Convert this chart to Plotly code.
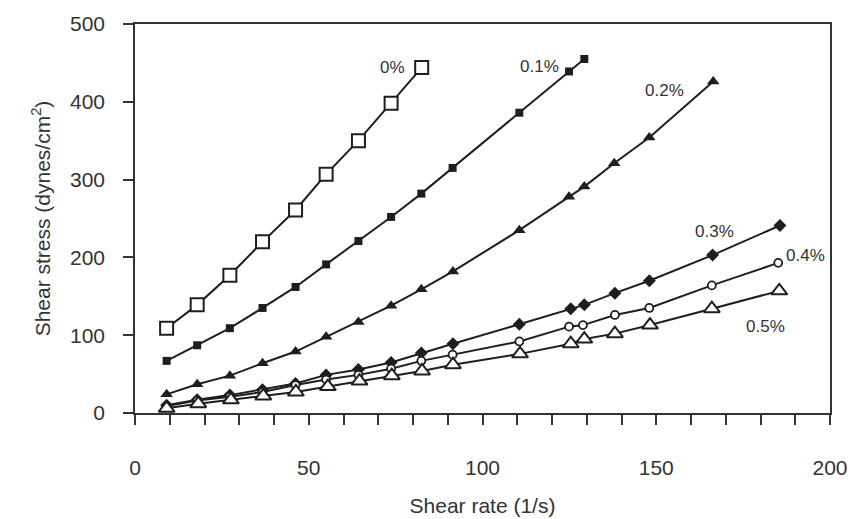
import plotly.graph_objects as go

# ---- data (shear rate in 1/s, shear stress in dynes/cm^2) ----
x_0 = [9.1, 17.9, 27.3, 36.7, 46.2, 55.0, 64.3, 73.7, 82.5]
y_0 = [109, 139, 177, 220, 261, 307, 350, 398, 444]

x_01 = [9.1, 17.9, 27.3, 36.7, 46.2, 55.0, 64.3, 73.7, 82.4, 91.4, 110.6, 124.9, 129.3]
y_01 = [67, 87, 109, 135, 162, 191, 221, 252, 282, 315, 386, 439, 455]

x_02 = [9.1, 17.9, 27.3, 36.7, 46.2, 55.0, 64.3, 73.7, 82.4, 91.5, 110.6, 124.9, 129.3, 137.9, 148.0, 166.4]
y_02 = [24, 37, 48, 64, 79, 98, 117, 138, 159, 182, 235, 278, 291, 321, 354, 426]

x_03 = [9.1, 17.9, 27.3, 36.7, 46.2, 55.0, 64.3, 73.7, 82.4, 91.5, 110.6, 125.4, 129.3, 138.1, 148.0, 166.2, 185.6]
y_03 = [10, 17, 23, 30, 38, 49, 56, 65, 77, 89, 114, 134, 139, 154, 170, 203, 241]

x_04 = [9.1, 17.9, 27.3, 36.7, 46.2, 55.0, 64.3, 73.7, 82.4, 91.4, 110.6, 124.9, 128.9, 138.1, 148.0, 166.0, 185.1]
y_04 = [9, 16, 21, 27, 36, 43, 49, 57, 67, 75, 92, 111, 113, 126, 135, 164, 193]

x_05 = [9.1, 18.2, 27.6, 36.9, 46.3, 55.5, 64.6, 73.9, 82.6, 91.5, 110.8, 125.4, 129.3, 138.1, 148.2, 166.0, 185.4]
y_05 = [6, 12, 17, 22, 27, 34, 41, 48, 54, 62, 76, 89, 95, 102, 113, 134, 157]

series_names = ["0%", "0.1%", "0.2%", "0.3%", "0.4%", "0.5%"]
label_x = [74.2, 116.5, 152.3, 166.7, 193.0, 181.3]
label_y = [444, 445, 414, 233, 202, 111]

x_tickvals = [0, 50, 100, 150, 200]
x_ticktext = ["0", "50", "100", "150", "200"]
y_tickvals = [0, 100, 200, 300, 400, 500]

LINE = "#1e1e1e"
TXT = "#333333"
FONT = "Arial, Liberation Sans, sans-serif"

styles = [
    dict(symbol="square", size=13, color="white", line=dict(color=LINE, width=2)),
    dict(symbol="square", size=8, color=LINE, line=dict(color=LINE, width=0)),
    dict(symbol="triangle-up", size=11, color=LINE, line=dict(color=LINE, width=0)),
    dict(symbol="diamond", size=10, color=LINE, line=dict(color=LINE, width=0)),
    dict(symbol="circle", size=8, color="white", line=dict(color=LINE, width=1.8)),
    dict(symbol="triangle-up", size=14, color="white", line=dict(color=LINE, width=2)),
]

xs = [x_0, x_01, x_02, x_03, x_04, x_05]
ys = [y_0, y_01, y_02, y_03, y_04, y_05]

fig = go.Figure()
for name, x, y, st in zip(series_names, xs, ys, styles):
    fig.add_trace(go.Scatter(
        x=x, y=y, mode="lines+markers", name=name,
        line=dict(color=LINE, width=2),
        marker=st, showlegend=False,
    ))

for name, lx, ly in zip(series_names, label_x, label_y):
    fig.add_annotation(x=lx, y=ly, text=name, showarrow=False,
                       font=dict(size=17, color=TXT, family=FONT),
                       xanchor="center", yanchor="middle")

fig.update_layout(
    width=850, height=519,
    margin=dict(l=135, r=20, t=20, b=106),
    paper_bgcolor="white", plot_bgcolor="white",
    font=dict(family=FONT, color=TXT, size=21),
)

fig.update_xaxes(
    range=[0, 200], tickvals=x_tickvals, ticktext=x_ticktext,
    ticks="outside", ticklen=10, tickwidth=1.5, tickcolor="#333",
    minor=dict(dtick=10, ticks="outside", ticklen=10, tickwidth=1.5, tickcolor="#333"),
    showline=True, linecolor="#333", linewidth=1.5, mirror=True,
    showgrid=False, zeroline=False, automargin=False,
    ticklabelstandoff=25,
    tickfont=dict(size=21, color=TXT),
    title=dict(text="Shear rate (1/s)", font=dict(size=21, color=TXT), standoff=20),
)
fig.update_yaxes(
    range=[0, 500], tickvals=y_tickvals,
    ticks="outside", ticklen=10, tickwidth=1.5, tickcolor="#333",
    showline=True, linecolor="#333", linewidth=1.5, mirror=True,
    showgrid=False, zeroline=False,
    ticklabelstandoff=14,
    tickfont=dict(size=21, color=TXT),
    title=dict(text="Shear stress (dynes/cm<sup>2</sup>)", font=dict(size=21, color=TXT), standoff=14),
)

fig.write_html("out.html")
